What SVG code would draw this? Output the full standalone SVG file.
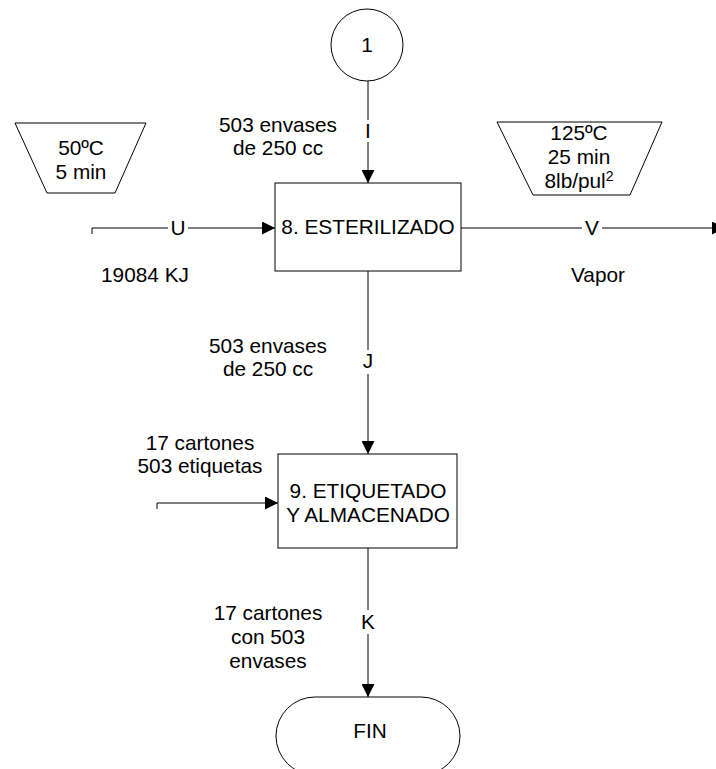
<svg xmlns="http://www.w3.org/2000/svg" width="716" height="769" viewBox="0 0 716 769">
<defs>
<marker id="ah" markerUnits="userSpaceOnUse" markerWidth="13" markerHeight="13" refX="13" refY="6.5" orient="auto">
<path d="M0,0 L13,6.5 L0,13 z" fill="#000"/>
</marker>
<style>
text{font-family:"Liberation Sans",Arial,sans-serif;font-size:20.8px;fill:#000;text-anchor:middle}
.s{fill:#fff;stroke:#000;stroke-width:1}
.c{fill:none;stroke:#000;stroke-width:1}
.bg{fill:#fff}
</style>
</defs>
<rect width="716" height="769" fill="#fff"/>
<g id="connectors">
<line class="c" x1="368" y1="81" x2="368" y2="183" marker-end="url(#ah)"/>
<rect class="bg" x="360" y="120" width="16" height="22"/>
<text x="368" y="138">I</text>
<path class="c" d="M92,234 L92,228 L275,228" marker-end="url(#ah)"/>
<rect class="bg" x="168" y="216" width="20" height="24"/>
<text x="178" y="235">U</text>
<line class="c" x1="461" y1="228" x2="725" y2="228" marker-end="url(#ah)"/>
<rect class="bg" x="582" y="216" width="20" height="24"/>
<text x="592" y="235">V</text>
<line class="c" x1="368" y1="271" x2="368" y2="454" marker-end="url(#ah)"/>
<rect class="bg" x="360" y="350" width="16" height="24"/>
<text x="368" y="368">J</text>
<path class="c" d="M157,509 L157,503 L278,503" marker-end="url(#ah)"/>
<line class="c" x1="368" y1="548" x2="368" y2="697" marker-end="url(#ah)"/>
<rect class="bg" x="360" y="610" width="16" height="24"/>
<text x="368" y="629">K</text>
</g>
<g id="n1">
<circle class="s" cx="367" cy="45" r="36"/>
<text x="367" y="52">1</text>
</g>
<g id="cond1">
<polygon class="s" points="15,123 146,123 115,193 47,193"/>
<text x="81" y="155">50ºC</text>
<text x="81" y="179">5 min</text>
</g>
<g id="cond2">
<polygon class="s" points="497,122 662,122 630,195 533,195"/>
<text x="579" y="140">125ºC</text>
<text x="579" y="164">25 min</text>
<text x="579" y="188">8lb/pul<tspan font-size="14" dy="-7">2</tspan></text>
</g>
<g id="n8">
<rect class="s" x="275" y="183" width="186" height="88"/>
<text x="368" y="234">8. ESTERILIZADO</text>
</g>
<g id="n9">
<rect class="s" x="278" y="454" width="179" height="94"/>
<text x="368" y="498">9. ETIQUETADO</text>
<text x="368" y="522">Y ALMACENADO</text>
</g>
<g id="fin">
<rect class="s" x="276" y="697" width="184" height="78" rx="39" ry="39"/>
<text x="370" y="738">FIN</text>
</g>
<g id="labels">
<text x="278" y="132">503 envases</text>
<text x="278" y="155">de 250 cc</text>
<text x="145" y="282">19084 KJ</text>
<text x="598" y="282">Vapor</text>
<text x="268" y="353">503 envases</text>
<text x="268" y="376">de 250 cc</text>
<text x="200" y="450">17 cartones</text>
<text x="200" y="473">503 etiquetas</text>
<text x="268" y="620">17 cartones</text>
<text x="268" y="644">con 503</text>
<text x="268" y="668">envases</text>
</g>
</svg>
